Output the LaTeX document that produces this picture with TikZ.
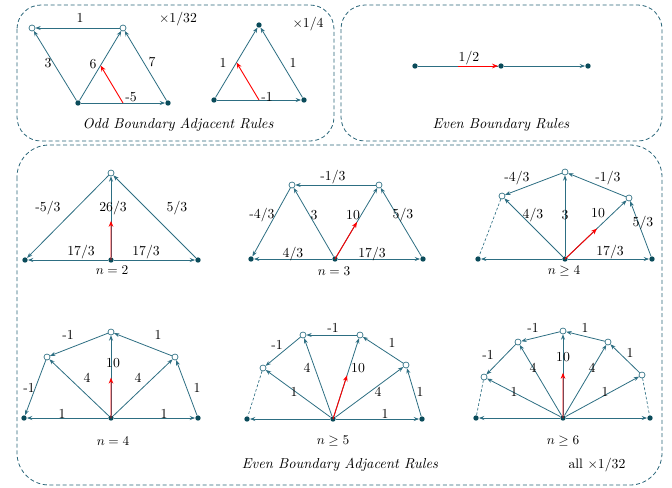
\documentclass[tikz,border=0pt]{standalone}
\usepackage{amsmath,amssymb}
\usepackage{xcolor}
\definecolor{EdgeTeal}{RGB}{45,110,130}
\definecolor{DotTeal}{RGB}{10,75,90}
\definecolor{FrameTeal}{RGB}{40,100,120}
\usepackage{tikz}
\usetikzlibrary{arrows.meta,calc}

\begin{document}
\begin{tikzpicture}[x=0.75pt,y=-0.75pt,
  dot/.style={circle,fill=DotTeal,inner sep=0pt,minimum size=4pt},
  hole/.style={circle,draw=EdgeTeal,fill=white,inner sep=0pt,minimum size=4.5pt,line width=0.5pt},
  arr/.style={-{Stealth[length=4pt,width=3pt]},EdgeTeal,line width=0.6pt},
  redarr/.style={-{Stealth[length=4.5pt,width=3.5pt]},red,line width=0.7pt},
  link/.style={EdgeTeal,dash pattern=on 2pt off 1.5pt,line width=0.5pt},
  lbl/.style={font=\fontsize{10.3}{12}\selectfont,inner sep=0pt},
  rulename/.style={font=\fontsize{10.8}{13}\selectfont\itshape,inner sep=0pt},
  frame/.style={draw=FrameTeal,dash pattern=on 3pt off 2pt,rounded corners=18pt,line width=0.6pt}
]
  \useasboundingbox (0,0) rectangle (672,487);
  \draw[frame] (17,5) rectangle (334,141);
  \draw[frame] (341,5) rectangle (662,141);
  \draw[frame,rounded corners=24pt] (17,145) rectangle (662,485);

  % odd boundary adjacent
  \node[hole] (a1) at (32,28) {};
  \node[hole] (a2) at (123,28) {};
  \node[dot]  (a3) at (78,103) {};
  \node[dot]  (a4) at (168,103) {};
  \draw[arr] (a2)--(a1); \draw[arr] (a3)--(a1); \draw[arr] (a3)--(a2);
  \draw[arr] (a4)--(a2); \draw[arr] (a3)--(a4);
  \coordinate (a5) at ($(a3)!0.5!(a4)$);
  \coordinate (a6) at ($(a3)!0.5!(a2)$);
  \draw[redarr] (a5)--(a6);
  \node[lbl] at (80,18) {1};
  \node[lbl] at (48,63) {3};
  \node[lbl] at (93,64) {6};
  \node[lbl] at (152,62) {7};
  \node[lbl] at (131,97) {-5};
  \node[lbl] at (178,19) {$\times$1/32};

  \node[dot] (b1) at (259,25) {};
  \node[dot] (b2) at (214,100) {};
  \node[dot] (b3) at (304,100) {};
  \draw[arr] (b2)--(b1); \draw[arr] (b3)--(b1); \draw[arr] (b2)--(b3);
  \coordinate (b4) at ($(b2)!0.5!(b3)$);
  \coordinate (b5) at ($(b2)!0.5!(b1)$);
  \draw[redarr] (b4)--(b5);
  \node[lbl] at (223,63) {1};
  \node[lbl] at (293,63) {1};
  \node[lbl] at (267,97) {-1};
  \node[lbl] at (308,24) {$\times$1/4};
  \node[rulename] at (178,125) {Odd Boundary Adjacent Rules};

  % even boundary
  \node[dot] (c1) at (415,66) {};
  \node[dot] (c2) at (501,66) {};
  \node[dot] (c3) at (588,66) {};
  \draw[EdgeTeal,line width=0.6pt] (c1)--(c2);
  \draw[arr] (c2)--(c3);
  \coordinate (c4) at ($(c1)!0.5!(c2)$);
  \draw[redarr] (c4)--(c2);
  \node[lbl] at (469,58) {1/2};
  \node[rulename] at (501,125) {Even Boundary Rules};

  % n = 2
  \node[hole] (d1) at (111,173) {};
  \node[dot]  (d2) at (25,260) {};
  \node[dot]  (d3) at (111,260) {};
  \node[dot]  (d4) at (198,260) {};
  \draw[arr] (d1)--(d2); \draw[arr] (d4)--(d1); \draw[arr] (d3)--(d1);
  \draw[arr] (d3)--(d2); \draw[arr] (d3)--(d4);
  \coordinate (d5) at ($(d3)!0.45!(d1)$);
  \draw[redarr] (d3.center)--(d5);
  \node[lbl] at (48,208) {-5/3};
  \node[lbl] at (113,208) {26/3};
  \node[lbl] at (177,208) {5/3};
  \node[lbl] at (81,252) {17/3};
  \node[lbl] at (146,252) {17/3};
  \node[lbl] at (112,270) {$n=2$};

  % n = 3
  \node[hole] (e1) at (292,185) {};
  \node[hole] (e2) at (379,185) {};
  \node[dot]  (e3) at (251,259) {};
  \node[dot]  (e4) at (335,259) {};
  \node[dot]  (e5) at (423,259) {};
  \draw[arr] (e2)--(e1); \draw[arr] (e1)--(e3); \draw[arr] (e4)--(e1);
  \draw[arr] (e4)--(e2); \draw[arr] (e5)--(e2);
  \draw[arr] (e4)--(e3); \draw[arr] (e4)--(e5);
  \coordinate (e6) at ($(e4)!0.5!(e2)$);
  \draw[redarr] (e4.center)--(e6);
  \node[lbl] at (333,177) {-1/3};
  \node[lbl] at (262,215) {-4/3};
  \node[lbl] at (314,215) {3};
  \node[lbl] at (353,215) {10};
  \node[lbl] at (403,215) {5/3};
  \node[lbl] at (293,254) {4/3};
  \node[lbl] at (372,254) {17/3};
  \node[lbl] at (334,271) {$n=3$};

  % n >= 4
  \node[hole] (f1) at (502,196) {};
  \node[hole] (f2) at (565,172) {};
  \node[hole] (f3) at (629,198) {};
  \node[dot]  (f4) at (478,259) {};
  \node[dot]  (f5) at (565,259) {};
  \node[dot]  (f6) at (652,259) {};
  \draw[arr] (f2)--(f1); \draw[arr] (f3)--(f2); \draw[link] (f1)--(f4);
  \draw[arr] (f5)--(f1); \draw[arr] (f5)--(f2); \draw[arr] (f5)--(f3);
  \draw[arr] (f6)--(f3); \draw[arr] (f5)--(f4); \draw[arr] (f5)--(f6);
  \coordinate (f7) at ($(f5)!0.5!(f3)$);
  \draw[redarr] (f5.center)--(f7);
  \node[lbl] at (517,178) {-4/3};
  \node[lbl] at (608,178) {-1/3};
  \node[lbl] at (533,215) {4/3};
  \node[lbl] at (565,215) {3};
  \node[lbl] at (598,213) {10};
  \node[lbl] at (643,223) {5/3};
  \node[lbl] at (610,252) {17/3};
  \node[lbl] at (564,271) {$n\geq 4$};

  % n = 4
  \node[hole] (g1) at (47,357) {};
  \node[hole] (g2) at (111,332) {};
  \node[hole] (g3) at (175,357) {};
  \node[dot]  (g4) at (24,418) {};
  \node[dot]  (g5) at (111,418) {};
  \node[dot]  (g6) at (198,418) {};
  \draw[arr] (g2)--(g1); \draw[arr] (g3)--(g2); \draw[arr] (g1)--(g4);
  \draw[arr] (g5)--(g1); \draw[arr] (g5)--(g2); \draw[arr] (g5)--(g3);
  \draw[arr] (g6)--(g3); \draw[arr] (g5)--(g4); \draw[arr] (g5)--(g6);
  \coordinate (g7) at ($(g5)!0.47!(g2)$);
  \draw[redarr] (g5.center)--(g7);
  \node[lbl] at (68,335) {-1};
  \node[lbl] at (158,335) {1};
  \node[lbl] at (29,388) {-1};
  \node[lbl] at (87,378) {4};
  \node[lbl] at (113,363) {10};
  \node[lbl] at (138,378) {4};
  \node[lbl] at (197,388) {1};
  \node[lbl] at (62,414) {1};
  \node[lbl] at (164,414) {1};
  \node[lbl] at (113,441) {$n=4$};

  % n >= 5
  \node[hole] (h1) at (263,368) {};
  \node[hole] (h2) at (303,335) {};
  \node[hole] (h3) at (360,335) {};
  \node[hole] (h4) at (406,365) {};
  \node[dot]  (h5) at (247,419) {};
  \node[dot]  (h6) at (333,419) {};
  \node[dot]  (h7) at (422,419) {};
  \draw[arr] (h2)--(h1); \draw[arr] (h3)--(h2); \draw[arr] (h4)--(h3);
  \draw[link] (h1)--(h5);
  \draw[arr] (h6)--(h1); \draw[arr] (h6)--(h2); \draw[arr] (h6)--(h3);
  \draw[arr] (h6)--(h4); \draw[arr] (h7)--(h4);
  \draw[arr] (h6)--(h5); \draw[arr] (h6)--(h7);
  \coordinate (h8) at ($(h6)!0.52!(h3)$);
  \draw[redarr] (h6.center)--(h8);
  \node[lbl] at (277,345) {-1};
  \node[lbl] at (333,328) {-1};
  \node[lbl] at (392,343) {1};
  \node[lbl] at (294,392) {1};
  \node[lbl] at (307,368) {4};
  \node[lbl] at (358,368) {10};
  \node[lbl] at (378,392) {4};
  \node[lbl] at (420,392) {1};
  \node[lbl] at (385,414) {1};
  \node[lbl] at (333,441) {$n\geq 5$};
  \node[rulename] at (340,465) {Even Boundary Adjacent Rules};

  % n >= 6
  \node[hole] (k1) at (484,377) {};
  \node[hole] (k2) at (518,342) {};
  \node[hole] (k3) at (563,331) {};
  \node[hole] (k4) at (608,342) {};
  \node[hole] (k5) at (642,375) {};
  \node[dot]  (k6) at (476,418) {};
  \node[dot]  (k7) at (563,418) {};
  \node[dot]  (k8) at (650,418) {};
  \draw[arr] (k2)--(k1); \draw[arr] (k3)--(k2); \draw[arr] (k4)--(k3);
  \draw[arr] (k5)--(k4);
  \draw[link] (k1)--(k6); \draw[link] (k5)--(k8);
  \draw[arr] (k7)--(k1); \draw[arr] (k7)--(k2); \draw[arr] (k7)--(k3);
  \draw[arr] (k7)--(k4); \draw[arr] (k7)--(k5);
  \draw[arr] (k7)--(k6); \draw[arr] (k7)--(k8);
  \coordinate (k9) at ($(k7)!0.52!(k3)$);
  \draw[redarr] (k7.center)--(k9);
  \node[lbl] at (488,355) {-1};
  \node[lbl] at (533,328) {-1};
  \node[lbl] at (585,328) {1};
  \node[lbl] at (630,353) {1};
  \node[lbl] at (514,392) {1};
  \node[lbl] at (533,368) {4};
  \node[lbl] at (563,357) {10};
  \node[lbl] at (592,368) {4};
  \node[lbl] at (605,392) {1};
  \node[lbl] at (563,441) {$n\geq 6$};
  \node[lbl] at (597,465) {all $\times$1/32};
\end{tikzpicture}
\end{document}
